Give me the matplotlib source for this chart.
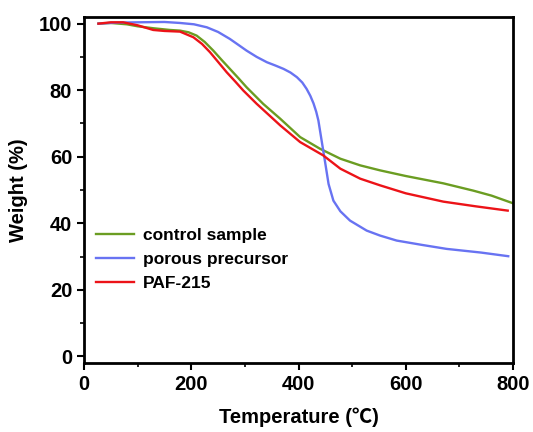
import matplotlib.pyplot as plt
from matplotlib.ticker import MultipleLocator

plt.rcParams['font.family'] = ['Liberation Sans', 'Noto Sans CJK SC', 'DejaVu Sans']
plt.rcParams['font.weight'] = 'bold'

# control sample
t_control = [27, 50, 80, 100, 130, 160, 179, 195, 210, 225, 241, 256, 272, 288, 303, 334,
             366, 403, 440, 478, 515, 552, 600, 670, 726, 760, 800]
w_control = [100, 100.2, 99.8, 99.2, 98.6, 98.1, 97.9, 97.4, 96.4, 94.5, 91.9, 89.2, 86.4,
             83.6, 80.9, 75.9, 71.4, 65.9, 62.4, 59.4, 57.4, 55.9, 54.2, 52.0, 49.8, 48.3,
             46.0]

# porous precursor
t_precursor = [27, 60, 100, 150, 179, 205, 229, 250, 272, 288, 303, 322, 341, 357, 372,
               385, 397, 407, 415, 422, 428, 433, 437, 443, 449, 456, 465, 478, 496, 527,
               552, 583, 630, 676, 740, 791]
w_precursor = [100, 100.3, 100.4, 100.5, 100.2, 99.8, 98.9, 97.5, 95.4, 93.6, 91.9, 90.0,
               88.4, 87.4, 86.4, 85.3, 83.9, 82.3, 80.4, 78.3, 76.0, 73.5, 70.9, 64.9,
               58.9, 51.8, 46.8, 43.6, 40.8, 37.8, 36.3, 34.8, 33.5, 32.3, 31.2, 30.1]

# PAF-215
t_paf = [27, 50, 73, 100, 129, 150, 179, 204, 220, 235, 250, 266, 282, 297, 322, 366, 403,
         446, 478, 515, 552, 600, 670, 730, 790]
w_paf = [100, 100.4, 100.4, 99.5, 98.1, 97.8, 97.6, 95.9, 93.9, 91.4, 88.5, 85.4, 82.6,
         79.9, 75.9, 69.4, 64.4, 60.4, 56.4, 53.4, 51.4, 49.0, 46.5, 45.1, 43.8]

fig = plt.figure(figsize=(5.33, 4.32), dpi=100)
ax = fig.add_axes([0.1576, 0.1597, 0.805, 0.801])

ax.plot(t_control, w_control, color='#6b9d22', lw=1.7, label='control sample')
ax.plot(t_precursor, w_precursor, color='#6873f2', lw=1.7, label='porous precursor')
ax.plot(t_paf, w_paf, color='#ec1318', lw=1.7, label='PAF-215')

ax.set_xlim(0, 800)
ax.set_ylim(-2, 102)
ax.xaxis.set_major_locator(MultipleLocator(200))
ax.xaxis.set_minor_locator(MultipleLocator(100))
ax.yaxis.set_major_locator(MultipleLocator(20))
ax.yaxis.set_minor_locator(MultipleLocator(10))
ax.tick_params(which='major', direction='out', length=5, width=1.5, labelsize=14.5)
ax.tick_params(which='minor', direction='out', length=3, width=1.2)
for sp in ax.spines.values():
    sp.set_linewidth(2)

ax.set_xlabel('Temperature (℃)', fontsize=14.5, fontweight='bold', labelpad=10)
ax.set_ylabel('Weight (%)', fontsize=14.5, fontweight='bold', labelpad=8)

ax.legend(loc='upper left', bbox_to_anchor=(0.0, 0.425), frameon=False,
          fontsize=12.5, handlelength=2.2, handletextpad=0.5, labelspacing=0.5,
          borderaxespad=0.3)

fig.savefig('out.png', dpi=100)
